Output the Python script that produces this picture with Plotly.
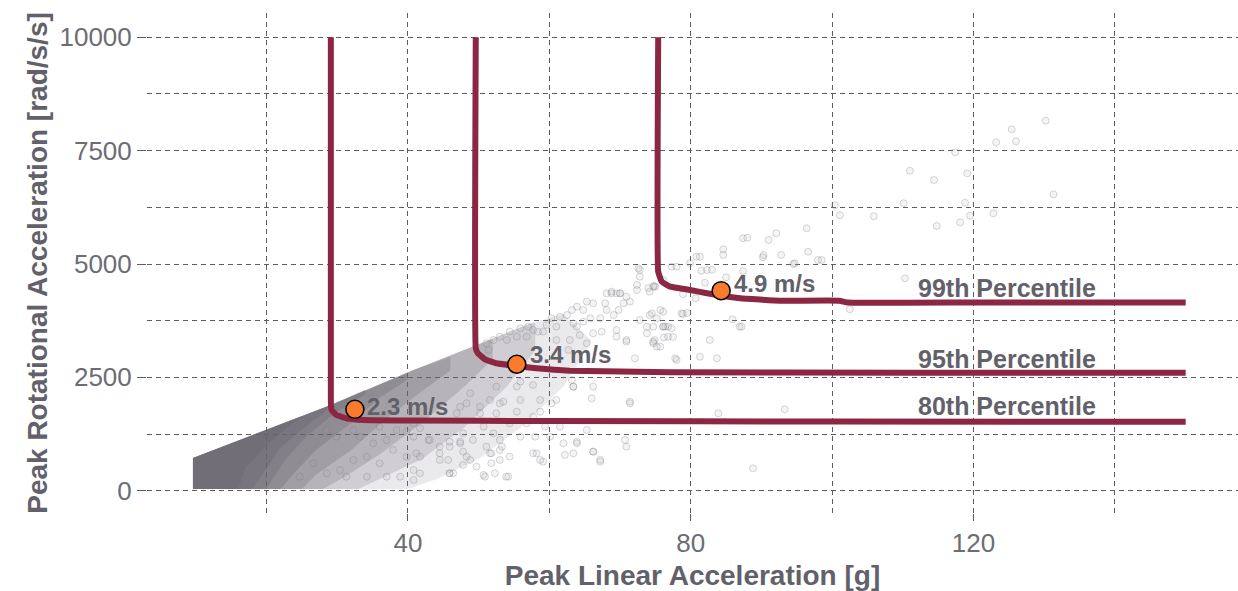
import plotly.graph_objects as go

# ---- percentile tolerance curves (PLA [g], PRA [rad/s/s]) ----
p80_x = [29.1, 29.1, 29.2, 29.9, 31.3, 33.7, 40, 60, 100, 150]
p80_y = [10000, 1960, 1780, 1670, 1597, 1560, 1550, 1535, 1525, 1520]

p95_x = [49.6, 49.6, 49.9, 50.9, 52.5, 55.4, 58.2, 62.9, 77, 110, 150]
p95_y = [10000, 3140, 3030, 2898, 2810, 2750, 2700, 2647, 2611, 2603, 2600]

p99_x = [75.4, 75.4, 75.9, 77.1, 79.9, 82.3, 87.0, 92.6, 101.0, 102.2, 120, 150]
p99_y = [10000, 4830, 4610, 4500, 4427, 4354, 4243, 4191, 4191, 4150, 4150, 4150]

# ---- impact speeds marked on the curves ----
speed_x = [32.5, 55.4, 84.3]
speed_y = [1795, 2788, 4411]
speed_lbl = ["2.3 m/s", "3.4 m/s", "4.9 m/s"]
speed_lbl_x = [33.9, 57.0, 85.9]
speed_lbl_y = [1868, 2993, 4574]

# ---- percentile labels ----
pct_lbl = ["99th Percentile", "95th Percentile", "80th Percentile"]
pct_lbl_x = [137.6, 137.6, 137.6]
pct_lbl_y = [4464, 2898, 1868]

# ---- y tick labels ----
y_ticks = [0, 2500, 5000, 7500, 10000]
y_tick_text = ["0", "2500", "5000", "7500", "10000"]

# ---- dense impact cloud: nested density contours, outermost first ----
# each contour runs up the upper-left edge of the cloud, then back down
band_x = [
    [9.6, 9.6, 29.1, 40.8, 50, 57.3, 62, 66, 62, 56, 50, 44, 40],
    [9.6, 9.6, 29.1, 40.8, 50, 57.3, 58, 58, 54, 48, 42, 36, 33],
    [9.6, 9.6, 29.1, 40.8, 50, 52, 52, 48, 42, 36, 31, 28],
    [9.6, 9.6, 29.1, 40.8, 46, 46, 42, 37, 32, 27, 25],
    [9.6, 9.6, 29.1, 40, 40, 36, 32, 27, 24, 22],
    [9.6, 9.6, 29.1, 34, 34, 30, 26, 23, 21, 20],
    [9.6, 9.6, 29.1, 28, 25, 22, 20, 18],
    [9.6, 9.6, 25, 23, 20, 17, 16],
]
band_y = [
    [40, 721, 1891, 2662, 3230, 3690, 3900, 3300, 2300, 1400, 700, 250, 40],
    [40, 721, 1891, 2662, 3230, 3690, 3700, 3100, 2300, 1400, 700, 250, 40],
    [40, 721, 1891, 2662, 3230, 3350, 2900, 2300, 1500, 800, 300, 40],
    [40, 721, 1891, 2662, 2950, 2650, 2200, 1600, 900, 350, 40],
    [40, 721, 1891, 2600, 2450, 2050, 1500, 900, 400, 40],
    [40, 721, 1891, 2230, 2120, 1750, 1250, 750, 300, 40],
    [40, 721, 1891, 1700, 1350, 950, 500, 40],
    [40, 721, 1640, 1400, 1000, 500, 40],
]
band_alpha = [0.14, 0.2, 0.24, 0.28, 0.3, 0.32, 0.34, 0.36]

# ---- individual impacts outside the dense core ----
cloud_x = [
    130.2, 125.4, 123.2, 126.0, 117.4, 111.0, 114.4, 119.1, 131.3, 110.1, 118.8, 119.5,
    118.1, 114.8, 122.8, 110.3, 100.4, 101.1, 105.9, 98.5, 96.4, 92.1, 91.0, 87.4, 88.0,
    84.6, 84.6, 90.3, 92.8, 94.7, 81.3, 80.8, 82.3, 79.9, 77.3, 78.0, 72.8, 74.0, 75.0,
    72.4, 68.8, 70.0, 96.6, 90.2, 94.5, 83.0, 81.5, 87.4, 85.0, 82.0, 74.8, 78.9, 80.7,
    76.1, 102.5, 78.9, 79.5, 75.2, 85.9, 86.9, 76.1, 76.8, 77.3, 76.8, 76.2, 77.5, 74.9,
    82.7, 75.2, 81.3, 83.7, 78.0, 83.9, 93.3, 98.0,
    71.4, 88.8, 87.2, 70.9, 74.7, 72.1, 77.8, 69.5, 73.8, 76.4, 78.7, 74.5, 63.4, 63.2,
    66.0, 60.3, 58.7, 55.4, 53.0, 54.4, 56.8, 50.7, 52.1, 39.8, 41.7, 42.9, 41.2, 44.5,
    45.9, 47.4, 48.3, 51.6, 53.0, 47.8, 49.7, 41.7, 45.9, 50.7, 53.9, 40.8, 63.4, 62.0,
    66.2, 67.2, 63.9, 59.1, 58.2,
    72.6, 72.8, 74.7, 74.2, 72.4, 76.1, 70.0, 69.5, 68.1, 68.8, 70.9, 71.4, 70.5, 69.8,
    67.9, 68.1, 69.1, 66.2, 65.3, 64.8, 63.9, 63.2, 62.5, 63.4, 63.9, 66.2, 67.4, 69.5,
    70.9, 73.8, 74.7, 76.1, 75.7, 74.7, 72.8, 74.2, 75.7, 67.2, 65.8, 64.8, 64.3, 62.9,
    65.3, 62.7, 60.3, 61.5, 61.0, 59.6, 59.1, 61.0, 58.4, 57.7, 57.0, 56.8, 55.9, 55.4,
    54.4, 54.0, 53.0, 52.1, 51.1, 51.4, 57.7, 55.9, 55.4, 52.5, 51.6, 53.5, 48.8, 48.3,
    50.2, 47.4, 46.9, 50.2, 52.5, 63.4, 66.2, 71.4, 58.7, 55.9, 61.0, 57.7, 43.1, 45.9,
    47.4, 49.2, 51.1, 51.8, 53.0, 53.3, 44.5, 47.8, 45.7, 48.8, 46.4, 44.5, 51.8, 53.0,
    54.4, 57.7, 58.7, 58.0, 55.9, 63.9, 66.2, 67.2, 62.2, 70.7, 70.9, 60.1, 52.3, 54.2,
    50.9, 45.9, 59.4, 61.5, 65.3, 47.8,
    26.6, 28.5, 30.4, 32.3, 34.2, 36.0, 37.9, 39.8, 40.8, 31.3, 34.2, 37.0, 38.9, 35.1,
    37.0, 33.2, 38.4, 40.8, 41.7, 24.7, 40.8, 36.0, 32.3, 29.9, 28.5,
]
cloud_y = [
    8161, 7971, 7684, 7706, 7464, 7058, 6853, 7000, 6537, 6339, 6352, 6065,
    5919, 5838, 6118, 4685, 6297, 6076, 6055, 5088, 5787, 5677, 5530, 5567, 5580,
    5324, 5200, 5198, 5198, 5016, 5160, 5160, 4868, 5020, 4941, 4941, 4868, 4470, 4500,
    4537, 4354, 4354, 5271, 5147, 5000, 4870, 4850, 4846, 4706, 4588, 4515, 4332, 4243,
    3948, 4001, 3898, 3920, 3802, 3780, 3617, 3617, 3617, 3582, 3397, 3380, 3390, 3324,
    3324, 3177, 2955, 2920, 2883, 1707, 1795, 5088,
    1927, 493, 3618, 3287, 3287, 2919, 2919, 3544, 3618, 3618, 3912, 3912, 2294, 2441,
    2037, 1927, 1743, 1743, 1927, 1486, 1486, 1412, 1265, 1302, 1375, 1118, 824, 824,
    971, 1045, 750, 824, 897, 567, 530, 383, 383, 346, 309, 236, 824, 1045,
    861, 640, 1045, 640, 824,
    4904, 4720, 4500, 4390, 4426, 4647, 4353, 4353, 4353, 4390, 4280, 4169, 4133, 3986,
    4133, 3986, 3875, 4133, 4169, 3986, 4059, 3986, 3875, 3691, 3618, 3471, 3508, 3398,
    3324, 3471, 3618, 3618, 3177, 3250, 3765, 3875, 3986, 3802, 3802, 3728, 3434, 3324,
    3250, 3103, 3802, 3838, 3618, 3655, 3508, 3324, 3508, 3544, 3618, 3397, 3581, 3397,
    3508, 3324, 3397, 3324, 3250, 3103, 2332, 2405, 2295, 2295, 2001, 1964, 2148, 1928,
    1854, 1854, 1707, 1707, 1707, 2295, 2295, 1964, 2001, 2001, 2001, 1633, 1119, 1082,
    1082, 1119, 972, 825, 1119, 972, 972, 862, 678, 678, 384, 678, 605, 678,
    752, 825, 678, 1192, 1192, 1082, 862, 678, 788, 1119, 972, 1192, 384, 310,
    310, 384, 1413, 1413, 1339, 1266,
    603, 383, 456, 677, 750, 603, 897, 750, 456, 309, 309, 309, 309, 1044,
    1118, 1191, 1338, 1191, 750, 309, 1485, 1412, 1338, 1191, 1338,
]

CURVE = "#8C2743"
TEXT = "rgb(98,97,106)"
FONT = "Liberation Sans, Arial, sans-serif"

fig = go.Figure()

for bx, by, a in zip(band_x, band_y, band_alpha):
    fig.add_trace(go.Scatter(
        x=bx, y=by, mode="lines", fill="toself",
        fillcolor=f"rgba(104,100,110,{a})", line=dict(width=0),
        hoverinfo="skip", showlegend=False))

fig.add_trace(go.Scatter(
    x=cloud_x, y=cloud_y, mode="markers",
    marker=dict(size=7, color="rgba(165,161,170,0.12)",
                line=dict(color="rgba(120,116,126,0.28)", width=1)),
    hoverinfo="skip", showlegend=False))

for cx, cy in [(p80_x, p80_y), (p95_x, p95_y), (p99_x, p99_y)]:
    fig.add_trace(go.Scatter(
        x=cx, y=cy, mode="lines",
        line=dict(color=CURVE, width=6, shape="spline", smoothing=0.3),
        showlegend=False))

fig.add_trace(go.Scatter(
    x=speed_x, y=speed_y, mode="markers",
    marker=dict(size=18, color="#FA7B2C", line=dict(color="black", width=1.5)),
    showlegend=False))

for t, x, y in zip(speed_lbl, speed_lbl_x, speed_lbl_y):
    fig.add_annotation(x=x, y=y, text=f"<b>{t}</b>", showarrow=False,
                       xanchor="left", yanchor="middle",
                       font=dict(family=FONT, size=24, color=TEXT))

for t, x, y in zip(pct_lbl, pct_lbl_x, pct_lbl_y):
    fig.add_annotation(x=x, y=y, text=f"<b>{t}</b>", showarrow=False,
                       xanchor="right", yanchor="middle",
                       font=dict(family=FONT, size=25, color=TEXT))

grid = dict(gridcolor="rgb(95,95,95)", gridwidth=1, griddash="5px,4px")

fig.update_layout(
    width=1238, height=591,
    margin=dict(l=147, r=0, t=13, b=78),
    plot_bgcolor="white", paper_bgcolor="white",
    font=dict(family=FONT, color=TEXT),
    xaxis=dict(
        range=[3.1, 157.4], tickvals=[40, 80, 120], showline=False, zeroline=False,
        ticks="outside", ticklen=7, tickcolor="rgb(95,95,95)",
        tickfont=dict(size=26, color="rgb(108,108,116)"),
        minor=dict(tickvals=[20, 60, 100, 140], showgrid=True, ticks="", **grid),
        title=dict(text="<b>Peak Linear Acceleration [g]</b>",
                   font=dict(size=28, color=TEXT), standoff=10),
        **grid),
    yaxis=dict(
        range=[-492, 10536], tickvals=y_ticks, ticktext=y_tick_text,
        showline=False, zeroline=False,
        ticks="outside", ticklen=9, tickcolor="rgb(95,95,95)",
        tickfont=dict(size=26, color="rgb(108,108,116)"),
        minor=dict(tickvals=[1250, 3750, 6250, 8750], showgrid=True, ticks="", **grid),
        title=dict(text="<b>Peak Rotational Acceleration [rad/s/s]</b>",
                   font=dict(size=28, color=TEXT), standoff=3),
        **grid),
)

fig.write_html("out.html")
